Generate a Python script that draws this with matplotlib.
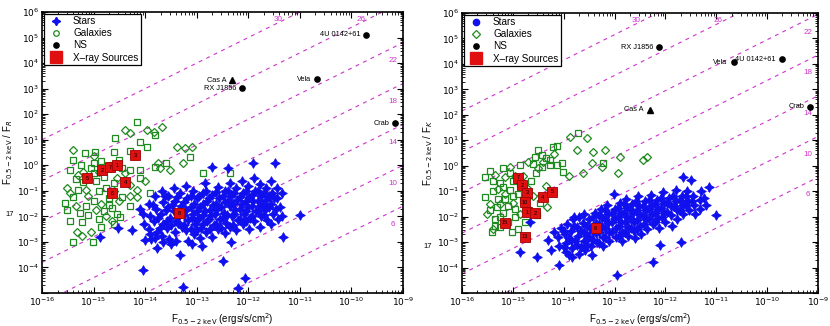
import numpy as np
import matplotlib
matplotlib.use("Agg")
import matplotlib.pyplot as plt
from matplotlib.lines import Line2D
from matplotlib.ticker import LogLocator, NullFormatter

plt.rcParams["font.family"] = ["Liberation Sans", "DejaVu Sans"]

# all values are log10(F_x) , log10(F_x / F_opt)
mags = [30, 26, 22, 18, 14, 10, 6]
zp_r = -5.0      # log F_R = zp - 0.4 m
zp_k = -6.15

stars_r = np.array([
    (-14.05, -1.9), (-14.02, -2.3), (-13.92, -1.5), (-13.9, -2.0), (-13.93, -2.5), (-13.88, -2.9),
    (-13.8, -1.2), (-13.78, -1.7), (-13.82, -2.2), (-13.77, -2.6), (-13.77, -3.25),
    (-13.68, -1.0), (-13.66, -1.45), (-13.7, -1.9), (-13.65, -2.3), (-13.68, -2.75),
    (-13.55, -1.2), (-13.56, -1.65), (-13.52, -2.05), (-13.57, -2.45), (-13.53, -2.9),
    (-13.44, -0.9), (-13.42, -1.4), (-13.45, -1.8), (-13.4, -2.2), (-13.43, -2.6),
    (-13.32, -1.1), (-13.3, -1.6), (-13.34, -2.0), (-13.28, -2.4), (-13.32, -3.53), (-13.26, -4.78),
    (-13.2, -0.8), (-13.18, -1.3), (-13.2, -1.75), (-13.16, -2.15), (-13.2, -2.55), (-13.17, -2.95),
    (-13.07, -1.0), (-13.05, -1.5), (-13.08, -1.9), (-13.04, -2.3), (-13.06, -2.7),
    (-12.95, -1.2), (-12.93, -1.65), (-12.96, -2.05), (-12.92, -2.45), (-12.94, -2.85),
    (-12.83, -0.7), (-12.82, -1.0), (-12.8, -1.4), (-12.84, -1.8), (-12.8, -2.2), (-12.82, -2.6),
    (-12.7, -0.08), (-12.7, -1.15), (-12.68, -1.55), (-12.72, -1.95), (-12.67, -2.35), (-12.7, -2.8),
    (-12.58, -0.85), (-12.57, -1.3), (-12.6, -1.7), (-12.55, -2.1), (-12.58, -2.5), (-12.49, -3.73),
    (-12.46, -1.0), (-12.45, -1.45), (-12.47, -1.85), (-12.44, -2.25), (-12.46, -2.65),
    (-12.39, -0.12), (-12.35, -0.7), (-12.34, -1.2), (-12.36, -1.6), (-12.32, -2.0), (-12.35, -2.4), (-12.33, -3.0),
    (-12.23, -0.9), (-12.22, -1.35), (-12.25, -1.75), (-12.2, -2.15), (-12.23, -2.55), (-12.19, -4.82),
    (-12.12, -0.6), (-12.1, -1.1), (-12.13, -1.5), (-12.09, -1.9), (-12.11, -2.3), (-12.06, -4.43),
    (-12.0, -0.8), (-11.98, -1.25), (-12.01, -1.65), (-11.97, -2.05), (-11.99, -2.5),
    (-11.9, 0.08), (-11.88, -0.5), (-11.87, -1.0), (-11.9, -1.4), (-11.86, -1.8), (-11.88, -2.2),
    (-11.77, -0.75), (-11.76, -1.2), (-11.78, -1.6), (-11.75, -2.0), (-11.77, -2.4),
    (-11.66, -0.9), (-11.65, -1.35), (-11.67, -1.75), (-11.64, -2.15),
    (-11.55, -0.6), (-11.54, -1.1), (-11.56, -1.5), (-11.53, -1.9), (-11.55, -2.3),
    (-11.48, 0.08), (-11.45, -0.9), (-11.44, -1.3), (-11.46, -1.7), (-11.43, -2.1),
    (-11.38, -1.65), (-11.35, -1.1), (-11.34, -2.0), (-11.32, -2.82), (-11.0, -1.96),
    (-14.87, -2.82), (-14.52, -2.47), (-14.25, -2.55), (-14.04, -4.1), (-14.1, -1.7), (-14.0, -2.94),
    (-13.85, -1.55), (-13.75, -2.05), (-13.72, -2.45), (-13.62, -1.2), (-13.6, -1.75), (-13.58, -2.2),
    (-13.48, -1.55), (-13.5, -2.35), (-13.38, -1.25), (-13.37, -1.85), (-13.36, -2.25), (-13.25, -1.45),
    (-13.24, -1.95), (-13.25, -2.35), (-13.12, -1.2), (-13.12, -1.65), (-13.1, -2.05), (-13.12, -2.5),
    (-13.0, -1.3), (-13.0, -1.8), (-12.99, -2.15), (-13.0, -2.55), (-12.88, -1.1), (-12.88, -1.5),
    (-12.87, -1.95), (-12.88, -2.3), (-12.76, -1.3), (-12.75, -1.75), (-12.76, -2.1), (-12.75, -2.5),
    (-12.63, -1.05), (-12.63, -1.5), (-12.64, -1.9), (-12.62, -2.3), (-12.5, -1.2), (-12.52, -1.65),
    (-12.5, -2.05), (-12.52, -2.45), (-12.4, -1.0), (-12.4, -1.4), (-12.41, -1.95), (-12.28, -1.1),
    (-12.29, -1.5), (-12.28, -1.9), (-12.29, -2.35), (-12.17, -1.25), (-12.17, -1.7), (-12.16, -2.1),
    (-12.05, -1.0), (-12.05, -1.4), (-12.04, -1.8), (-12.05, -2.2), (-11.93, -1.15), (-11.93, -1.6),
    (-11.92, -2.0), (-11.82, -1.0), (-11.82, -1.4), (-11.81, -1.8), (-11.7, -1.1), (-11.71, -1.55),
    (-11.7, -1.95), (-11.6, -1.2), (-11.6, -1.65), (-11.5, -1.3),
    (-13.9, -2.7), (-13.8, -2.85), (-13.65, -3.0), (-13.5, -3.1), (-13.4, -2.95), (-13.1, -3.1), (-12.9, -3.15),
])

stars_k = np.array([
    (-14.3, -2.9), (-14.25, -3.3), (-14.2, -2.6), (-14.12, -2.8), (-14.1, -3.15), (-14.1, -3.9), (-14.05, -2.45),
    (-13.98, -2.7), (-13.96, -3.05), (-13.95, -3.4), (-13.93, -2.3),
    (-13.86, -2.55), (-13.85, -2.9), (-13.83, -3.25), (-13.84, -3.6), (-13.82, -2.1),
    (-13.74, -2.4), (-13.72, -2.75), (-13.73, -3.1), (-13.7, -3.45), (-13.7, -2.0),
    (-13.62, -2.25), (-13.6, -2.6), (-13.61, -2.95), (-13.58, -3.3), (-13.6, -1.9),
    (-13.5, -2.1), (-13.48, -2.45), (-13.5, -2.8), (-13.47, -3.15), (-13.45, -3.5),
    (-13.38, -1.85), (-13.37, -2.25), (-13.36, -2.65), (-13.35, -3.0),
    (-13.26, -1.7), (-13.25, -2.05), (-13.24, -2.4), (-13.23, -2.8), (-13.22, -3.15),
    (-13.14, -1.55), (-13.12, -1.9), (-13.12, -2.25), (-13.1, -2.6), (-13.1, -2.95),
    (-13.02, -1.1), (-13.0, -1.7), (-12.99, -2.05), (-12.98, -2.45), (-12.97, -2.8), (-12.95, -4.3),
    (-12.9, -1.45), (-12.88, -1.85), (-12.87, -2.2), (-12.86, -2.6), (-12.85, -2.95),
    (-12.77, -1.3), (-12.76, -1.65), (-12.75, -2.0), (-12.74, -2.4), (-12.73, -2.75),
    (-12.65, -1.5), (-12.63, -1.85), (-12.62, -2.2), (-12.61, -2.55), (-12.6, -2.85),
    (-12.53, -1.2), (-12.52, -1.6), (-12.5, -1.95), (-12.5, -2.35), (-12.48, -2.7),
    (-12.4, -1.4), (-12.39, -1.75), (-12.38, -2.1), (-12.37, -2.5),
    (-12.28, -1.15), (-12.27, -1.55), (-12.26, -1.9), (-12.25, -2.3), (-12.25, -3.8),
    (-12.16, -1.35), (-12.15, -1.7), (-12.14, -2.05), (-12.13, -2.45), (-12.1, -3.1),
    (-12.04, -1.05), (-12.03, -1.45), (-12.02, -1.85), (-12.0, -2.2),
    (-11.92, -1.25), (-11.9, -1.6), (-11.9, -1.95), (-11.88, -2.35),
    (-11.8, -0.95), (-11.79, -1.4), (-11.78, -1.75), (-11.77, -2.1),
    (-11.7, -3.0), (-11.68, -1.2), (-11.66, -1.55), (-11.65, -1.9), (-11.66, -0.45),
    (-11.57, -1.0), (-11.55, -1.4), (-11.54, -1.75), (-11.5, -0.56),
    (-11.45, -1.2), (-11.43, -1.55), (-11.42, -1.9),
    (-11.33, -1.35), (-11.32, -1.7), (-11.3, -1.0), (-11.0, -1.95),
    (-14.86, -3.4), (-14.53, -3.6), (-14.66, -2.2), (-13.8, -2.0),
    (-14.0, -2.55), (-14.0, -3.2), (-13.9, -2.85), (-13.9, -3.5), (-13.8, -2.35), (-13.78, -2.95),
    (-13.66, -2.55), (-13.66, -3.2), (-13.55, -2.35), (-13.55, -2.75), (-13.54, -3.1), (-13.42, -2.0),
    (-13.42, -2.6), (-13.42, -2.9), (-13.3, -1.95), (-13.3, -2.3), (-13.3, -2.6), (-13.3, -3.05),
    (-13.18, -1.75), (-13.18, -2.1), (-13.18, -2.45), (-13.18, -2.8), (-13.06, -1.85), (-13.06, -2.2),
    (-13.05, -2.6), (-12.94, -1.65), (-12.93, -2.0), (-12.92, -2.35), (-12.92, -2.75), (-12.82, -1.5),
    (-12.81, -1.85), (-12.8, -2.2), (-12.8, -2.6), (-12.7, -1.7), (-12.69, -2.05), (-12.68, -2.45),
    (-12.57, -1.4), (-12.56, -1.75), (-12.56, -2.15), (-12.55, -2.5), (-12.45, -1.6), (-12.44, -1.95),
    (-12.43, -2.3), (-12.33, -1.35), (-12.32, -1.7), (-12.32, -2.1), (-12.2, -1.5), (-12.2, -1.85),
    (-12.2, -2.2), (-12.08, -1.25), (-12.08, -1.65), (-12.07, -2.0), (-11.96, -1.45), (-11.96, -1.8),
    (-11.85, -1.2), (-11.84, -1.6), (-11.72, -1.35), (-11.72, -1.75), (-11.6, -1.2), (-11.6, -1.55),
    (-11.48, -1.4), (-11.25, -1.25), (-11.2, -1.55), (-11.15, -0.85),
])

gal_sq_r = np.array([
    (-14.16, 1.69), (-14.58, 1.06), (-13.81, 1.18), (-14.1, 0.9), (-13.96, 0.72),
    (-15.17, 0.47), (-14.97, 0.51), (-14.6, 0.5), (-15.4, 0.2), (-15.25, 0.0),
    (-14.85, 0.15), (-14.5, 0.2), (-14.3, 0.55), (-15.0, -0.3), (-14.8, -0.45),
    (-15.2, -0.65), (-14.6, -0.7), (-14.9, -1.0), (-15.4, -1.25), (-15.55, -1.49),
    (-15.0, -1.4), (-14.7, -1.3), (-15.51, -1.76), (-15.26, -1.88), (-14.8, -1.8),
    (-14.64, -1.69), (-14.45, -1.25), (-14.49, -2.04), (-15.22, -2.24), (-14.9, -2.1),
    (-14.6, -2.3), (-15.4, -3.02), (-15.01, -3.02), (-14.1, -0.2), (-14.1, -0.51),
    (-14.29, -0.2), (-13.81, -0.08), (-13.6, 0.1), (-13.13, 0.31), (-12.87, -0.31),
    (-12.35, -0.31), (-13.9, -1.1), (-14.3, -1.6),
    (-15.45, -0.2), (-15.3, -0.95), (-15.15, -1.6), (-15.05, -0.1), (-14.95, -0.6),
    (-14.75, -0.9), (-14.7, -1.55), (-14.55, -1.9), (-14.85, -2.4), (-15.1, -1.95),
    (-15.45, -2.2), (-14.65, 0.0), (-14.45, -0.1), (-15.35, -0.55), (-15.0, 0.1),
])
gal_dm_r = np.array([
    (-14.29, 1.25), (-13.96, 1.37), (-13.67, 1.49), (-13.82, 1.3), (-14.4, 1.4),
    (-15.4, 0.59), (-15.0, 0.35), (-13.38, 0.71), (-13.22, 0.67), (-13.1, 0.7),
    (-13.75, 0.08), (-13.51, -0.2), (-13.26, 0.08), (-13.71, -0.12),
    (-15.51, -0.9), (-15.3, -0.4), (-14.7, -0.1), (-14.4, -0.3), (-14.16, -0.98),
    (-14.16, -1.25), (-14.3, -0.78), (-15.1, -1.2), (-14.85, -1.5), (-15.32, -2.63),
    (-15.22, -2.75), (-14.0, -0.6), (-13.55, -1.2), (-14.6, -1.0), (-15.35, -1.6),
    (-15.2, -0.25), (-14.9, -0.25), (-14.55, -0.5), (-14.75, -2.0), (-14.95, -1.75),
    (-15.15, -0.95), (-14.5, -1.4), (-14.3, -1.2), (-15.45, -1.1), (-14.65, -2.2), (-15.05, -2.6),
])
gal_sq_k = np.array([
    (-15.55, -0.44), (-15.55, -1.23), (-15.41, -2.6), (-15.02, -2.6), (-15.19, -1.86),
    (-15.31, -1.62), (-15.06, -0.95), (-15.25, -0.68), (-15.06, -0.29), (-14.86, 0.03),
    (-14.43, -0.05), (-14.27, 0.03), (-14.04, 0.1), (-14.02, -0.25), (-14.47, -1.47),
    (-14.53, -1.94), (-14.76, -2.21), (-14.13, 0.77), (-13.72, 1.28), (-13.23, 0.11),
    (-14.57, 0.34), (-14.43, 0.42), (-14.27, 0.22), (-14.13, 0.03), (-14.21, 0.73),
    (-15.4, -1.0), (-15.15, -1.3), (-15.35, -2.1), (-15.1, -2.2), (-14.95, -1.7),
    (-14.9, -1.1), (-15.45, -0.2), (-15.2, -0.1), (-14.65, -0.6), (-14.55, -0.3),
    (-15.0, -0.6), (-14.9, -2.5), (-15.25, -2.4),
    (-15.4, -0.6), (-15.3, -1.3), (-15.2, -0.85), (-15.1, -1.6), (-15.0, -1.2),
    (-14.85, -0.75), (-14.8, -1.35), (-15.45, -1.75), (-15.25, -2.0), (-14.95, -2.0),
    (-15.35, -2.35), (-14.7, -1.75), (-14.6, 0.05), (-14.35, 0.3), (-14.5, 0.6),
])
gal_dm_k = np.array([
    (-13.88, 1.13), (-13.54, 1.09), (-13.74, 0.62), (-13.43, 0.54), (-13.19, 0.62),
    (-12.9, 0.34), (-12.37, 0.34), (-12.44, 0.22), (-12.94, -0.29), (-13.62, -0.29),
    (-13.45, 0.1), (-13.25, -0.05), (-14.33, -1.62), (-14.6, -1.2), (-14.7, -0.9),
    (-15.3, -0.9), (-15.45, -1.5), (-15.0, -1.45), (-14.8, -0.4), (-15.15, -0.45),
    (-14.35, -0.8), (-13.9, -0.4), (-14.4, 0.15), (-14.7, 0.15), (-15.5, -1.9),
    (-15.35, -0.35), (-15.15, -1.1), (-14.95, -0.4), (-15.25, -1.5), (-14.85, -1.9),
    (-15.05, -0.05), (-14.75, -1.15), (-14.5, -0.1), (-14.2, 0.45), (-15.4, -2.5),
])

ns_names = ["4U 0142+61", "Vela", "Cas A", "RX J1856", "Crab"]
ns_lx = [-9.71, -10.66, -12.31, -12.12, -9.15]
ns_ly_r = [5.1, 3.37, 3.33, 3.02, 1.65]
ns_ly_k = [4.19, 4.07, 2.19, 4.66, 2.31]

xr_lx_r = [-15.13, -14.83, -14.68, -14.54, -14.19, -14.39, -14.64, -13.34]
xr_ly_r = [-0.51, -0.2, -0.08, 0.0, 0.39, -0.67, -1.1, -1.88]
xr_id_r = ["5", "2", "7", "1", "3", "4", "6", "8"]
xr_lx_k = [-14.9, -14.82, -14.72, -14.41, -14.23, -14.76, -14.72, -14.57, -15.16, -14.76, -13.37]
xr_ly_k = [-0.48, -0.76, -1.07, -1.23, -1.03, -1.43, -1.82, -1.86, -2.25, -2.8, -2.45]
xr_id_k = ["7", "2", "3", "4", "5", "10", "1", "2", "15", "13", "8"]

MAG_COL = "#cc33cc"
STAR_COL = "#1010ee"
GAL_COL = "#1f8a1f"


def draw_panel(ax, stars, gsq, gdm, ns_ly, xlx, xly, xid, zp, band, star_leg, gal_leg):
    fx = np.array([1e-16, 1e-9])
    for m in mags:
        lf = zp - 0.4 * m
        ax.plot(fx, fx / 10 ** lf, color=MAG_COL, lw=0.8, dashes=(3.5, 4), zorder=1)
        y_right = -9 - lf
        if y_right <= 6.0:
            ax.text(10 ** -9.2, 10 ** (y_right - 0.7), str(m), color=MAG_COL,
                    fontsize=5.8, ha="center", va="center")
        else:
            ax.text(10 ** (6 + lf - 0.42), 10 ** 5.72, str(m), color=MAG_COL,
                    fontsize=5.8, ha="center", va="center")

    ax.plot(10 ** gsq[:, 0], 10 ** gsq[:, 1], ls="none", marker="s", ms=4.2,
            mfc="none", mec=GAL_COL, mew=0.9, zorder=2)
    ax.plot(10 ** gdm[:, 0], 10 ** gdm[:, 1], ls="none", marker="D", ms=3.6,
            mfc="none", mec=GAL_COL, mew=0.9, zorder=2)
    ax.plot(10 ** stars[:, 0], 10 ** stars[:, 1], ls="none", marker=(4, 1, 0),
            ms=7, color=STAR_COL, mec=STAR_COL, mew=0.6, zorder=3)

    for name, lx, ly in zip(ns_names, ns_lx, ns_ly):
        mk = "^" if name == "Cas A" else "o"
        ax.plot(10 ** lx, 10 ** ly, marker=mk, ms=3.8, color="black", zorder=4)
        ax.text(10 ** (lx - 0.12), 10 ** ly, name, fontsize=5.3, ha="right",
                va="center", color="black")

    ax.plot(10 ** np.array(xlx), 10 ** np.array(xly), ls="none", marker="s", ms=7.5,
            mfc="#e01010", mec="#a00000", mew=0.6, zorder=5)
    for lx, ly, t in zip(xlx, xly, xid):
        ax.text(10 ** lx, 10 ** ly, t, fontsize=4, ha="center", va="center",
                color="black", zorder=6)

    ax.set_xscale("log")
    ax.set_yscale("log")
    ax.set_xlim(1e-16, 1e-9)
    ax.set_ylim(1e-5, 1e6)
    ax.set_xticks(10.0 ** np.arange(-16, -8))
    ax.set_xticklabels([f"$10^{{{k}}}$" for k in range(-16, -8)])
    ax.set_yticks(10.0 ** np.arange(-5, 7))
    ax.set_yticklabels([""] + [f"$10^{{{k}}}$" for k in range(-4, 7)])
    ax.xaxis.set_minor_locator(LogLocator(base=10, subs=np.arange(2, 10), numticks=100))
    ax.yaxis.set_minor_locator(LogLocator(base=10, subs=np.arange(2, 10), numticks=100))
    ax.xaxis.set_minor_formatter(NullFormatter())
    ax.yaxis.set_minor_formatter(NullFormatter())
    ax.tick_params(which="both", direction="in", top=True, right=True, labelsize=6.5, pad=2)
    ax.tick_params(which="major", length=4, width=0.8)
    ax.tick_params(which="minor", length=2, width=0.6)
    for sp in ax.spines.values():
        sp.set_linewidth(1.2)

    ax.set_xlabel(r"F$_{0.5-2\ \mathrm{keV}}$ (ergs/s/cm$^2$)", fontsize=7, labelpad=2)
    ax.set_ylabel(r"F$_{0.5-2\ \mathrm{keV}}$ / F$_{%s}$" % band, fontsize=7)
    ax.yaxis.set_label_coords(-0.075, 0.5)

    handles = [
        star_leg,
        gal_leg,
        Line2D([], [], ls="none", marker="o", ms=3.8, color="black"),
        Line2D([], [], ls="none", marker="s", ms=8, mfc="#e01010", mec="#e01010"),
    ]
    leg = ax.legend(handles, ["Stars", "Galaxies", "NS", "X\u2013ray Sources"],
                    loc="upper left", fontsize=7.2, frameon=True, fancybox=False,
                    borderaxespad=0.15, handletextpad=0.7, labelspacing=0.22,
                    borderpad=0.25, handlelength=2.0, framealpha=1)
    leg.get_frame().set_edgecolor("black")
    leg.get_frame().set_linewidth(0.9)


fig = plt.figure(figsize=(8.3, 3.26), dpi=100)
ax1 = fig.add_axes([42 / 830, 33 / 326, 361 / 830, 281 / 326])
ax2 = fig.add_axes([462 / 830, 33 / 326, 356 / 830, 280 / 326])

draw_panel(ax1, stars_r, gal_sq_r, gal_dm_r, ns_ly_r, xr_lx_r, xr_ly_r, xr_id_r, zp_r, "R",
           Line2D([], [], ls="none", marker=(4, 1, 0), ms=6, color=STAR_COL),
           Line2D([], [], ls="none", marker="o", ms=4, mfc="none", mec=GAL_COL, mew=0.9))
draw_panel(ax2, stars_k, gal_sq_k, gal_dm_k, ns_ly_k, xr_lx_k, xr_ly_k, xr_id_k, zp_k, "K",
           Line2D([], [], ls="none", marker="o", ms=4.5, color=STAR_COL),
           Line2D([], [], ls="none", marker="D", ms=3.6, mfc="none", mec=GAL_COL, mew=0.9))

ax1.text(-0.089, 0.278, "17", transform=ax1.transAxes, fontsize=5.5, ha="center", va="center")
ax2.text(-0.095, 0.165, "17", transform=ax2.transAxes, fontsize=5.5, ha="center", va="center")

fig.savefig("out.png", dpi=100)
